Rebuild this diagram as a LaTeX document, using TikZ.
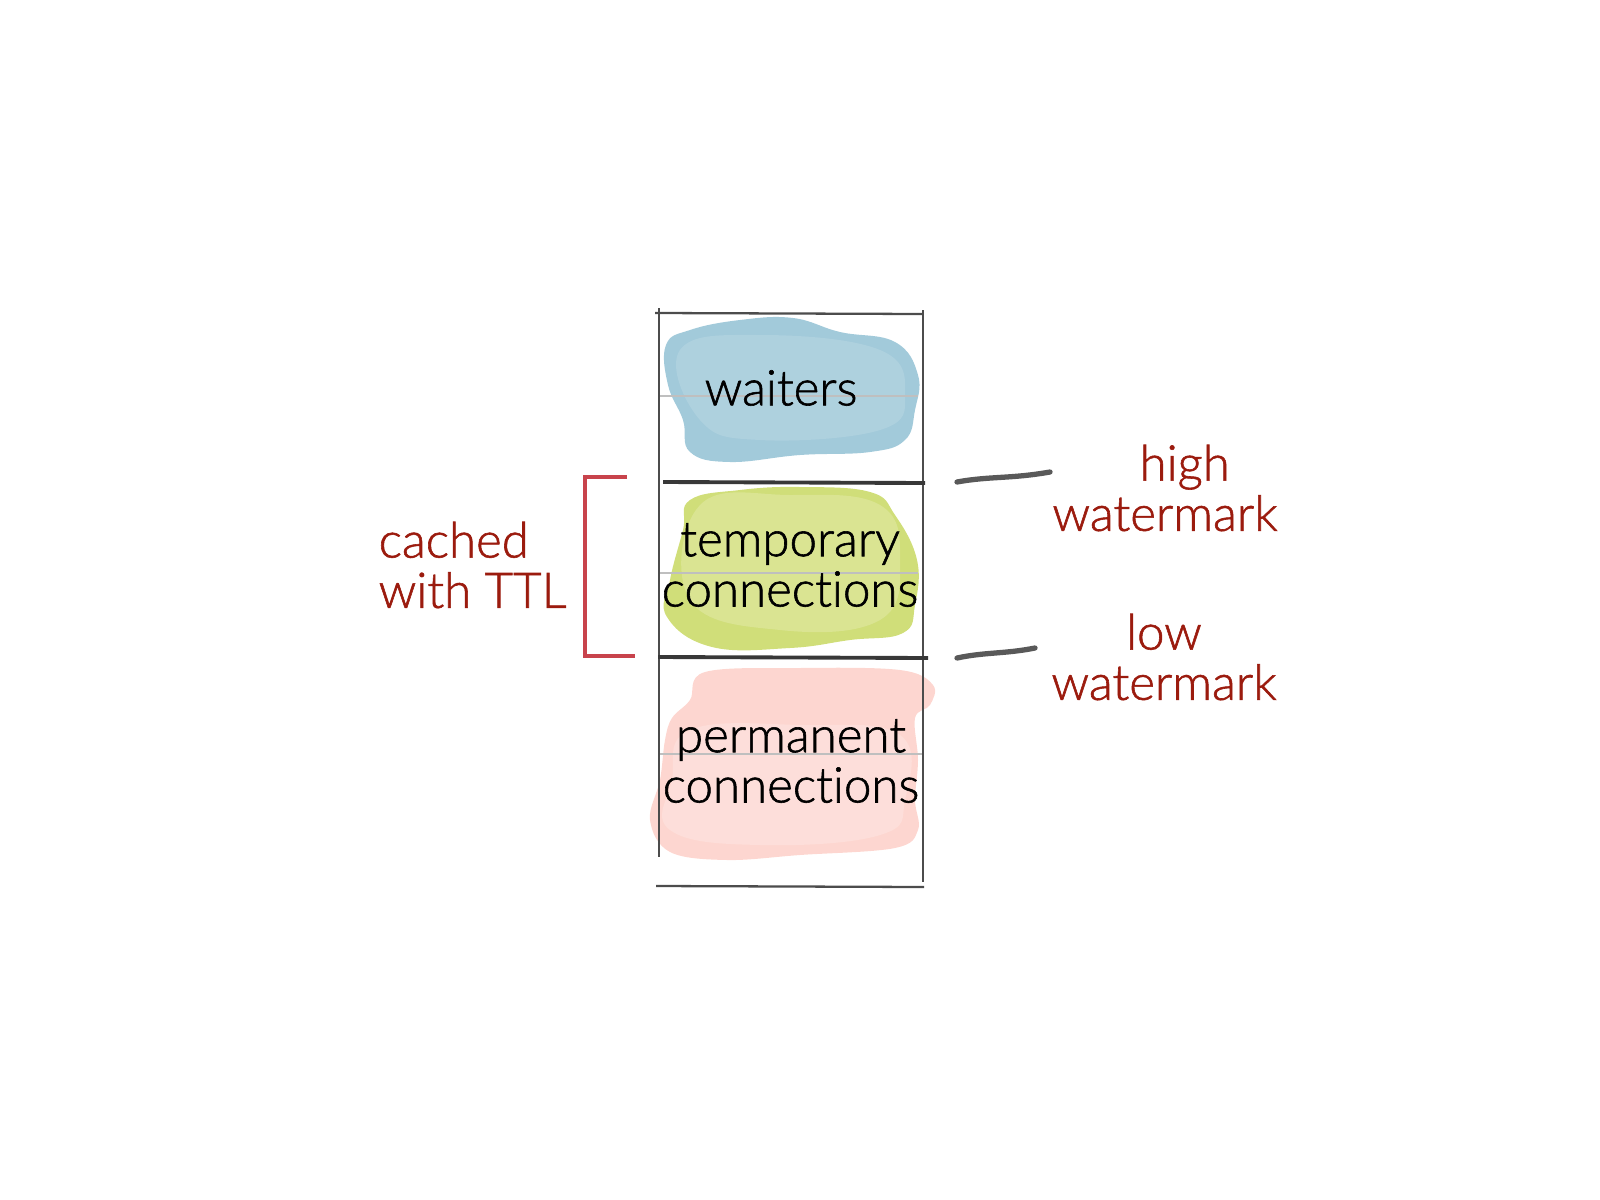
\documentclass[tikz,border=0pt]{standalone}
\usepackage{fontspec}
\setmainfont{Lato Light}[FakeBold=1]
\newfontfamily\handfont{Lato Light}[FakeBold=1.2, Ligatures=NoCommon]

\begin{document}
\begin{tikzpicture}[
		x=0.01cm, y=-0.01cm,
		celltext/.style={inner sep=0pt, align=center, font=\handfont\fontsize{14}{14.3}\selectfont, text=black},
		notetext/.style={inner sep=0pt, font=\handfont\fontsize{14}{14.3}\selectfont, text=notered},
		boxline/.style={draw=black!70, line width=0.65pt},
		markline/.style={draw=black!78, line width=1.1pt},
		guide/.style={draw=black!25, line width=0.3pt},
		tick/.style={draw=black!65, line width=1.5pt, line cap=round},
		bracket/.style={draw=bracketred, line width=1.1pt},
		]
		\definecolor{notered}{RGB}{155,27,14}
		\definecolor{bracketred}{RGB}{200,67,76}
		\definecolor{waterblue}{RGB}{152,196,214}
		\definecolor{watergreen}{RGB}{203,218,106}
		\definecolor{waterpink}{RGB}{253,210,203}
		\useasboundingbox (0,0) rectangle (1600,1200);
		
		%colour washes
		\fill[waterblue, opacity=0.9] plot[smooth cycle, tension=0.7] coordinates {(666,345) (690,330) (740,320) (793,318) (840,332) (895,342) (918,375) (915,410) (905,440) (870,452) (800,455) (730,462) (690,452) (683,420) (668,385)};
		\fill[waterblue!70, opacity=0.6] plot[smooth cycle, tension=0.7] coordinates {(680,350) (760,335) (880,350) (905,395) (880,430) (760,440) (700,420)};
		\fill[watergreen, opacity=0.9] plot[smooth cycle, tension=0.7] coordinates {(690,500) (740,490) (800,487) (870,492) (895,515) (917,560) (915,605) (903,633) (850,640) (790,648) (712,647) (667,617) (670,580) (683,530)};
		\fill[watergreen!60, opacity=0.6] plot[smooth cycle, tension=0.7] coordinates {(700,505) (790,495) (880,505) (900,560) (880,620) (780,630) (690,600)};
		\fill[waterpink, opacity=0.9] plot[smooth cycle, tension=0.6] coordinates {(705,672) (800,668) (900,670) (933,685) (930,705) (915,718) (918,760) (915,800) (918,830) (895,848) (800,855) (727,860) (670,852) (650,820) (660,780) (665,740) (672,718) (690,700)};
		\fill[waterpink!60, opacity=0.6] plot[smooth cycle, tension=0.7] coordinates {(690,730) (800,725) (900,735) (905,800) (880,835) (760,845) (670,830) (672,780)};
		
		%guide lines
		\draw[guide] (660,396) -- (918,396);
		\draw[guide] (660,573) -- (918,573);
		\draw[guide] (660,754) -- (922,754);
		
		%box
		\draw[boxline] (655,313) -- (922,314);
		\draw[boxline] (659,308) -- (659,857);
		\draw[boxline] (923,310) -- (923,882);
		\draw[boxline] (656,886) -- (924,887);
		\draw[markline] (663,482) -- (925,483);
		\draw[markline] (658,657) -- (928,658);
		
		%cell texts
		\node[celltext] (waiters) at (781,388) {waiters};
		\node[celltext] (temporary) at (790,565) {temporary\\connections};
		\node[celltext] (permanent) at (791,761) {permanent\\connections};
		
		%bracket
		\coordinate (ttltop) at (627,477);
		\coordinate (ttlbot) at (635,656);
		\draw[bracket] (ttltop) -- (585,477) -- (585,656) -- (ttlbot);
		\node[notetext, align=left, anchor=west] (cached) at (378,565) {cached\\with TTL};
		
		%watermarks
		\node[notetext, align=center] (high) at (1165,488) {\hspace*{0.8em}high\\watermark};
		\node[notetext, align=center] (low) at (1164,657) {low\\watermark};
		\coordinate (highstart) at (957,482);
		\coordinate (highend) at (1050,472);
		\coordinate (lowstart) at (957,658);
		\coordinate (lowend) at (1035,648);
		\draw[tick] (highstart) .. controls (990,476) and (1010,479) .. (highend);
		\draw[tick] (lowstart) .. controls (985,652) and (1005,654) .. (lowend);
	\end{tikzpicture}
\end{document}
